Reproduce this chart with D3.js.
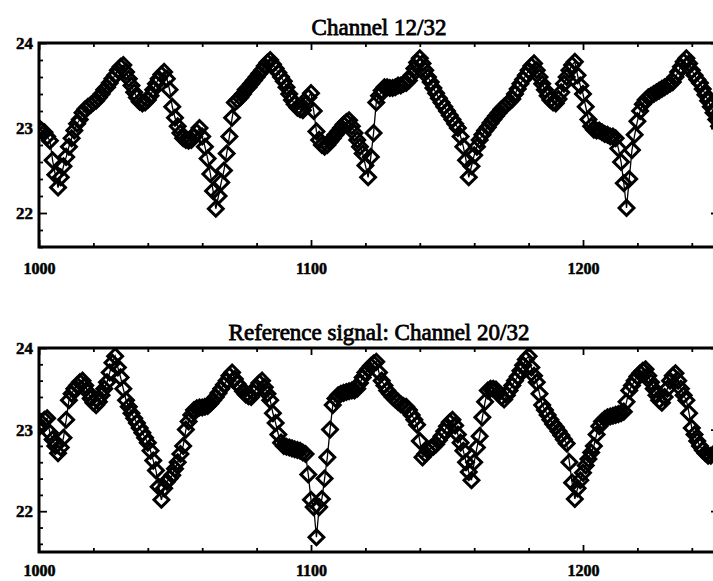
<!DOCTYPE html>
<html><head><meta charset="utf-8">
<script src="https://cdn.jsdelivr.net/npm/d3@7"></script>
<style>
html,body{margin:0;padding:0;background:#fff;}
text{font-family:"Liberation Serif","Times New Roman",serif;fill:#000;}
</style></head>
<body>
<svg id="chart" width="713" height="581"></svg>
<script>
const startIndex = 1000;
const titleTop = "Channel 12/32";
const titleBottom = "Reference signal: Channel 20/32";
const xTickValues = [1000, 1100, 1200];
const xTickLabels = ["1000", "1100", "1200"];
const yTickValues = [22, 23, 24];
const yTickLabels = ["22", "23", "24"];

const channel12 = [
23.0,22.97,22.95,22.9,22.85,22.62,22.45,22.3,22.42,22.55,
22.66,22.78,22.88,22.97,23.05,23.1,23.18,23.22,23.25,23.27,
23.3,23.32,23.36,23.4,23.45,23.48,23.53,23.58,23.62,23.68,
23.72,23.74,23.66,23.58,23.5,23.42,23.36,23.31,23.29,23.3,
23.33,23.38,23.45,23.52,23.58,23.63,23.66,23.58,23.45,23.25,
23.12,23.02,22.94,22.88,22.86,22.85,22.86,22.9,22.95,23.0,
22.9,22.78,22.64,22.46,22.26,22.05,22.2,22.36,22.5,22.7,
22.9,23.12,23.3,23.33,23.36,23.4,23.45,23.48,23.52,23.56,
23.6,23.64,23.68,23.73,23.77,23.8,23.75,23.7,23.65,23.6,
23.55,23.48,23.4,23.33,23.28,23.24,23.22,23.21,23.28,23.36,
23.41,23.2,22.96,22.86,22.8,22.78,22.8,22.84,22.88,22.92,
22.96,23.0,23.04,23.07,23.09,23.02,22.94,22.86,22.78,22.7,
22.56,22.42,22.66,22.94,23.3,23.38,23.44,23.48,23.48,23.47,
23.47,23.48,23.5,23.5,23.52,23.53,23.56,23.62,23.7,23.77,
23.82,23.76,23.68,23.6,23.54,23.47,23.41,23.35,23.3,23.25,
23.2,23.15,23.1,23.05,23.0,22.9,22.78,22.62,22.42,22.55,
22.68,22.78,22.86,22.92,22.97,23.01,23.06,23.1,23.14,23.18,
23.22,23.25,23.28,23.31,23.34,23.4,23.46,23.52,23.57,23.62,
23.68,23.73,23.76,23.68,23.6,23.52,23.45,23.38,23.33,23.3,
23.29,23.34,23.42,23.52,23.6,23.68,23.74,23.78,23.62,23.5,
23.4,23.25,23.1,23.02,22.98,22.97,22.97,22.95,22.93,22.92,
22.9,22.9,22.88,22.76,22.6,22.35,22.06,22.4,22.74,22.92,
23.08,23.2,23.28,23.33,23.36,23.38,23.4,23.42,23.44,23.46,
23.48,23.5,23.52,23.54,23.6,23.66,23.72,23.78,23.82,23.76,
23.68,23.62,23.57,23.53,23.46,23.39,23.32,23.25,23.18,23.1,
23.02
];

const channel20 = [
23.03,23.08,23.12,23.14,22.96,22.88,22.8,22.71,22.78,22.9,
23.12,23.36,23.44,23.5,23.54,23.58,23.6,23.54,23.46,23.38,
23.33,23.3,23.34,23.42,23.5,23.58,23.7,23.82,23.9,23.76,
23.64,23.5,23.36,23.28,23.2,23.14,23.08,23.02,22.96,22.9,
22.84,22.74,22.62,22.5,22.3,22.14,22.28,22.36,22.4,22.44,
22.52,22.6,22.7,22.8,23.0,23.1,23.18,23.24,23.26,23.27,
23.27,23.28,23.29,23.32,23.36,23.4,23.45,23.5,23.55,23.6,
23.66,23.7,23.62,23.56,23.52,23.47,23.43,23.41,23.4,23.45,
23.52,23.57,23.6,23.52,23.44,23.36,23.2,23.08,22.94,22.84,
22.8,22.79,22.78,22.77,22.76,22.75,22.74,22.72,22.7,22.45,
22.14,22.05,21.68,22.05,22.15,22.4,22.66,23.0,23.3,23.38,
23.42,23.44,23.45,23.46,23.47,23.48,23.48,23.5,23.57,23.64,
23.7,23.74,23.78,23.81,23.83,23.7,23.6,23.54,23.48,23.44,
23.4,23.37,23.34,23.31,23.29,23.28,23.24,23.18,23.12,23.06,
22.86,22.66,22.7,22.74,22.77,22.79,22.82,22.87,22.92,22.98,
23.04,23.09,23.12,23.05,22.94,22.84,22.74,22.6,22.48,22.38,
22.6,22.78,22.92,23.15,23.34,23.48,23.5,23.5,23.49,23.45,
23.4,23.37,23.42,23.48,23.54,23.6,23.65,23.72,23.79,23.86,
23.9,23.76,23.66,23.58,23.44,23.3,23.24,23.18,23.12,23.07,
23.03,22.98,22.93,22.88,22.83,22.6,22.35,22.15,22.28,22.38,
22.47,22.56,22.64,22.72,22.8,22.94,23.04,23.1,23.13,23.15,
23.16,23.17,23.18,23.19,23.2,23.22,23.34,23.48,23.54,23.6,
23.65,23.69,23.72,23.74,23.66,23.58,23.5,23.42,23.36,23.33,
23.4,23.5,23.6,23.66,23.69,23.6,23.5,23.42,23.36,23.2,
23.02,22.94,22.86,22.8,22.75,22.71,22.68,22.68,22.7,22.71,
22.72
];

const svg = d3.select("#chart");
const x = d3.scaleLinear().domain([1000, 1250]).range([39, 719]);

function panel(values, yDomain, top, bottom, title, titleY, labelY) {
  const y = d3.scaleLinear().domain(yDomain).range([bottom, top]);
  const g = svg.append("g");
  const data = values.map((v, i) => ({t: startIndex + i, v}));

  g.append("text").attr("x", 379).attr("y", titleY)
    .attr("text-anchor", "middle").attr("font-size", 23)
    .attr("stroke", "#000").attr("stroke-width", 0.8)
    .text(title);

  const xMinor = d3.range(1000, 1251, 20).filter(t => t % 100 !== 0);
  g.append("g").attr("transform", `translate(0,${bottom})`)
    .call(d3.axisTop(x).tickValues(xMinor).tickSize(4).tickFormat(""))
    .call(s => s.select(".domain").remove());
  g.append("g").attr("transform", `translate(0,${bottom})`)
    .call(d3.axisTop(x).tickValues(xTickValues).tickSize(7).tickFormat(""))
    .call(s => s.select(".domain").remove());
  g.append("g").attr("transform", `translate(0,${top})`)
    .call(d3.axisBottom(x).tickValues(xMinor).tickSize(4).tickFormat(""))
    .call(s => s.select(".domain").remove());
  g.append("g").attr("transform", `translate(0,${top})`)
    .call(d3.axisBottom(x).tickValues(xTickValues).tickSize(7).tickFormat(""))
    .call(s => s.select(".domain").remove());
  g.append("g").attr("transform", `translate(0,${labelY})`)
    .call(d3.axisBottom(x).tickValues(xTickValues).tickSize(0)
      .tickFormat((d, i) => xTickLabels[i]))
    .call(s => s.select(".domain").remove())
    .call(s => s.selectAll("text").attr("font-size", 16).attr("font-weight", "bold")
      .attr("font-family", "Liberation Serif").attr("stroke", "#000").attr("stroke-width", 0.5)
      .attr("dy", 0).attr("y", 0));

  const yMinor = d3.range(Math.ceil(yDomain[0] * 5) / 5, 24.001, 0.2)
    .filter(v => Math.abs(v - Math.round(v)) > 0.01);
  g.append("g").attr("transform", `translate(${x(1000)},0)`)
    .call(d3.axisRight(y).tickValues(yMinor).tickSize(4).tickFormat(""))
    .call(s => s.select(".domain").remove());
  g.append("g").attr("transform", `translate(${x(1000)},0)`)
    .call(d3.axisRight(y).tickValues(yTickValues).tickSize(8).tickFormat(""))
    .call(s => s.select(".domain").remove());
  g.append("g").attr("transform", `translate(${x(1250)},0)`)
    .call(d3.axisLeft(y).tickValues(yTickValues).tickSize(8).tickFormat(""))
    .call(s => s.select(".domain").remove());
  g.append("g").attr("transform", `translate(33,0)`)
    .call(d3.axisLeft(y).tickValues(yTickValues).tickSize(0)
      .tickFormat((d, i) => yTickLabels[i]))
    .call(s => s.select(".domain").remove())
    .call(s => s.selectAll("text").attr("font-size", 17).attr("font-weight", "bold")
      .attr("font-family", "Liberation Serif").attr("stroke", "#000").attr("stroke-width", 0.5)
      .attr("x", 0));
  g.selectAll(".tick line").attr("stroke", "#000").attr("stroke-width", 1.8);

  const clipId = "clip" + top;
  svg.append("clipPath").attr("id", clipId).append("rect")
    .attr("x", x(1000)).attr("y", top).attr("width", x(1250) - x(1000)).attr("height", bottom - top);
  const plot = g.append("g").attr("clip-path", `url(#${clipId})`);
  plot.append("path").datum(data)
    .attr("fill", "none").attr("stroke", "#000").attr("stroke-width", 1.3)
    .attr("d", d3.line().x(d => x(d.t)).y(d => y(d.v)));
  const sym = d3.symbol(d3.symbolSquare, 110);
  plot.selectAll("path.m").data(data).enter().append("path").attr("class", "m")
    .attr("transform", d => `translate(${x(d.t)},${y(d.v)}) rotate(45)`)
    .attr("d", sym).attr("fill", "none").attr("stroke", "#000").attr("stroke-width", 3);

  g.append("rect").attr("x", x(1000)).attr("y", top)
    .attr("width", x(1250) - x(1000)).attr("height", bottom - top)
    .attr("fill", "none").attr("stroke", "#000").attr("stroke-width", 3);
}

panel(channel12, [21.6, 24], 43, 247, titleTop, 35, 274);
panel(channel20, [21.5, 24], 348, 552, titleBottom, 340, 576);
</script>
</body></html>
